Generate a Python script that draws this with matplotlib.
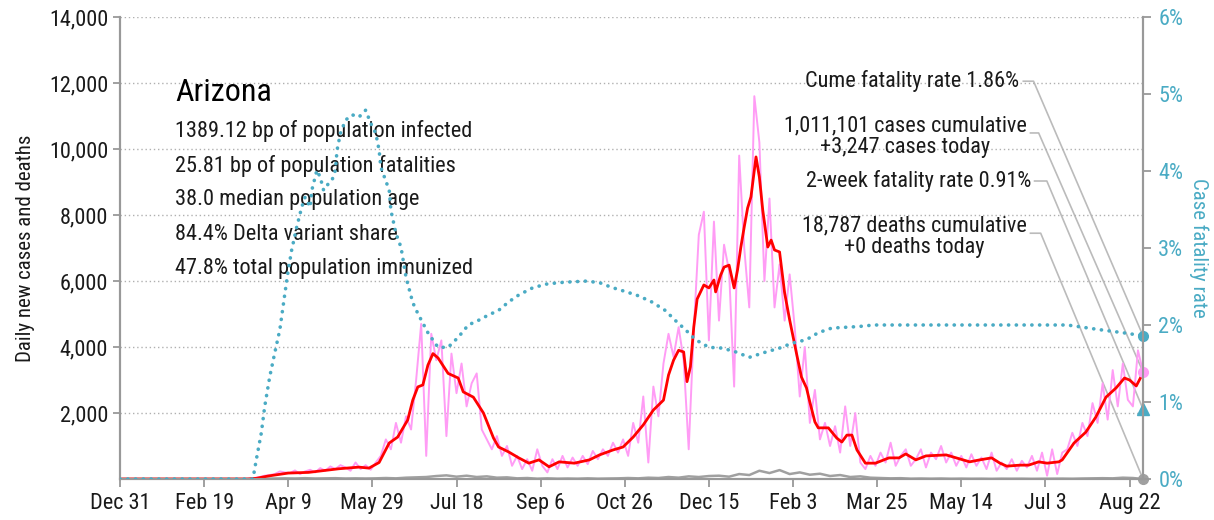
import matplotlib
matplotlib.use("Agg")
import matplotlib.pyplot as plt
import numpy as np

plt.rcParams['font.family'] = ['Roboto Condensed', 'DejaVu Sans']

# x values are days since Dec 31, 2019
tick_labels = ["Dec 31", "Feb 19", "Apr 9", "May 29", "Jul 18", "Sep 6", "Oct 26",
               "Dec 15", "Feb 3", "Mar 25", "May 14", "Jul 3", "Aug 22"]
last_day = 608

# daily new cases, every 3rd day starting day 2
daily_start, daily_step = 2, 3
daily_cases = [0, 0, 0, 0, 0, 0, 0, 0, 0, 0, 0, 0, 0, 0, 0, 0, 0, 0, 0, 0, 0, 0, 0, 0,
               0, 10, 30, 60, 100, 120, 150, 230, 200, 180, 260, 150, 230, 280, 200, 330,
               250, 380, 300, 420, 350, 250, 500, 300, 420, 280, 500, 700, 1200, 900, 1700,
               1100, 1900, 1500, 3000, 4700, 700, 4400, 3600, 4200, 1300, 3800, 2600, 3500,
               2200, 2900, 3200, 1500, 1200, 900, 1300, 700, 1000, 400, 700, 300, 600, 250,
               900, 400, 200, 600, 300, 700, 350, 650, 400, 700, 450, 850, 600, 900, 700,
               1100, 800, 1200, 700, 1700, 1100, 2500, 500, 2800, 1900, 3500, 4400, 3700,
               4600, 3600, 900, 4500, 7400, 8100, 4200, 7800, 4800, 7100, 6300, 2800, 9800,
               7000, 5200, 11600, 10200, 6000, 8500, 5200, 6500, 4800, 6200, 4600, 2500,
               4000, 1700, 2700, 1200, 1700, 1000, 1600, 800, 2200, 1000, 2000, 500, 300,
               700, 400, 800, 500, 1100, 400, 700, 900, 400, 600, 900, 350, 800, 600, 1000,
               500, 800, 400, 700, 350, 750, 400, 650, 300, 800, 250, 500, 300, 600, 250,
               550, 350, 700, 250, 800, 100, 900, 150, 800, 900, 1400, 1000, 1700, 1300,
               2300, 1700, 2900, 1800, 3300, 2200, 3500, 2400, 2200, 3900, 3247]

# 7-day average of cases
avg_days = [0, 76, 81, 88, 100, 112, 130, 142, 148, 154, 160, 165, 171, 174, 177, 180,
            183, 186, 189, 195, 201, 204, 210, 216, 222, 225, 231, 237, 243, 249, 255, 261,
            270, 279, 285, 293, 299, 305, 311, 317, 323, 326, 329, 332, 335, 337, 339, 341,
            343, 347, 350, 353, 354, 357, 359, 362, 365, 367, 369, 371, 373, 375, 378, 380,
            382, 385, 387, 389, 392, 395, 398, 402, 405, 408, 410, 413, 415, 421, 426, 429,
            432, 435, 438, 443, 449, 457, 463, 467, 473, 479, 491, 497, 505, 511, 518, 523,
            527, 535, 540, 546, 551, 558, 560, 567, 574, 580, 586, 592, 597, 600, 604, 608]
avg_cases = [0, 0, 20, 90, 180, 200, 310, 360, 330, 500, 1090, 1270, 1790, 2390, 2790, 2850,
             3450, 3800, 3670, 3200, 3060, 2640, 2480, 2000, 1240, 970, 820, 640, 480, 580,
             370, 520, 480, 580, 730, 880, 970, 1270, 1640, 2090, 2390, 3150, 3600, 3900,
             3850, 2950, 3400, 4600, 5450, 5880, 5790, 6030, 5670, 6180, 6420, 6480, 5790,
             6330, 7030, 7640, 8210, 8550, 9760, 9150, 8150, 7030, 7240, 6940, 6880, 5640,
             4820, 3820, 3090, 2760, 2330, 1730, 1550, 1550, 1240, 1120, 1330, 1330, 880,
             480, 480, 640, 640, 760, 580, 700, 730, 640, 520, 580, 640, 480, 390, 420, 420,
             520, 480, 520, 580, 1090, 1420, 1880, 2480, 2760, 3060, 3000, 2820, 3210]

# daily deaths, every 6th day starting day 2
death_start, death_step = 2, 6
daily_deaths = [0, 0, 0, 0, 0, 0, 0, 0, 0, 0, 0, 0, 0,
                2, 10, 15, 20, 15, 25, 15, 20, 25, 15, 20, 15, 20, 30, 20, 40, 50, 60, 90,
                110, 70, 100, 60, 80, 40, 50, 20, 30, 10, 20, 10, 15, 10, 20, 10, 15, 20, 30,
                20, 40, 30, 60, 40, 80, 60, 90, 100, 70, 150, 120, 250, 180, 270, 150, 200,
                130, 160, 90, 120, 60, 80, 40, 30, 20, 25, 10, 15, 10, 15, 8, 12, 8, 10, 5,
                10, 8, 10, 5, 8, 10, 12, 8, 15, 20, 25, 20, 40, 30, 0]

# case fatality rate (%), right axis
cfr_days = [0, 79, 81, 84, 86, 89, 92, 95, 98, 100, 102, 105, 108, 110, 113, 114, 117, 119,
            121, 124, 126, 128, 129, 131, 134, 138, 142, 146, 149, 152, 154, 155, 160, 161,
            164, 167, 170, 174, 177, 183, 189, 195, 201, 207, 213, 219, 225, 231, 237, 245,
            253, 261, 268, 277, 285, 292, 301, 308, 316, 324, 330, 336, 342, 350, 358, 366,
            374, 384, 392, 399, 408, 415, 423, 439, 448, 563, 582, 596, 608]
cfr_pct = [0, 0, 0.25, 0.6, 0.94, 1.33, 1.64, 1.94, 2.41, 2.71, 2.97, 3.27, 3.53, 3.66,
           3.53, 3.75, 4.01, 3.92, 3.75, 3.84, 3.88, 4.01, 4.27, 4.49, 4.66, 4.73, 4.70,
           4.79, 4.62, 4.49, 4.27, 4.05, 3.75, 3.49, 3.19, 3.01, 2.62, 2.29, 2.15, 1.90,
           1.71, 1.71, 1.84, 2.0, 2.06, 2.13, 2.19, 2.30, 2.39, 2.48, 2.53, 2.55, 2.56,
           2.57, 2.55, 2.49, 2.43, 2.38, 2.30, 2.19, 2.06, 1.94, 1.81, 1.71, 1.70, 1.65,
           1.58, 1.65, 1.70, 1.76, 1.81, 1.90, 1.96, 1.98, 2.0, 2.0, 1.94, 1.90, 1.86]

two_week_cfr = 0.91
cases_today = 3247
deaths_today = 0

title = "Arizona"
stats = ["1389.12 bp of population infected",
         "25.81 bp of population fatalities",
         "38.0 median population age",
         "84.4% Delta variant share",
         "47.8% total population immunized"]
note_cfr = "Cume fatality rate 1.86%"
note_cases = "1,011,101 cases cumulative\n+3,247 cases today"
note_2wk = "2-week fatality rate 0.91%"
note_deaths = "18,787 deaths cumulative\n+0 deaths today"

BLUE = "#4aabc4"
PINK = "#ff9cf5"
GRAY = "#a0a0a0"
AX_GRAY = "#999999"
TXT = "#1a1a1a"

fig = plt.figure(figsize=(12.14, 5.2), dpi=100)
ax = fig.add_axes([120 / 1214, 41 / 520, 1023 / 1214, 462 / 520])
ax2 = ax.twinx()

d_days = daily_start + daily_step * np.arange(len(daily_cases))
dd_days = death_start + death_step * np.arange(len(daily_deaths))

ax.plot(d_days, daily_cases, color=PINK, lw=1.4, zorder=2)
ax.plot(dd_days, daily_deaths, color=GRAY, lw=1.8, zorder=3)
ax.plot(avg_days, avg_cases, color="red", lw=2.0, zorder=4)
ax.plot([last_day], [cases_today], "o", color=PINK, ms=7, zorder=5, clip_on=False)
ax.plot([last_day], [deaths_today], "o", color=GRAY, ms=7, zorder=5, clip_on=False)

ax2.plot(cfr_days, cfr_pct, color=BLUE, lw=2.6, linestyle=(0, (0.05, 2.1)),
         dash_capstyle="round", zorder=3)
ax2.plot([last_day], [cfr_pct[-1]], "o", color=BLUE, ms=7, clip_on=False)
ax2.plot([last_day], [two_week_cfr], "^", color=BLUE, ms=8, clip_on=False)

ax.set_xlim(0, last_day)
ax.set_ylim(0, 14000)
ax2.set_ylim(0, 6)
ax.set_xticks(np.arange(0, 601, 50))
ax.set_xticklabels(tick_labels)
ax.set_yticks(np.arange(2000, 14001, 2000))
ax.set_yticklabels([f"{v:,}" for v in range(2000, 14001, 2000)])
ax2.set_yticks(range(0, 7))
ax2.set_yticklabels([f"{v}%" for v in range(0, 7)])

ax.yaxis.grid(True, linestyle=(0, (1, 2)), color="#b0b0b0", lw=1)
for a in (ax, ax2):
    a.spines["top"].set_visible(False)
    for s in ("left", "right", "bottom"):
        a.spines[s].set_color(AX_GRAY)
        a.spines[s].set_linewidth(1.5)
ax.tick_params(axis="x", colors=AX_GRAY, labelcolor=TXT, labelsize=16, length=6, width=1.3, pad=4)
ax.tick_params(axis="y", colors=AX_GRAY, labelcolor=TXT, labelsize=16, length=5, width=1.3)
ax2.tick_params(axis="y", colors=AX_GRAY, labelcolor=BLUE, labelsize=16, length=6, width=1.3, pad=5)

ax.set_ylabel("Daily new cases and deaths", fontsize=15, color=TXT, labelpad=10)
ax2.set_ylabel("Case fatality rate", fontsize=15, color=BLUE, rotation=270, labelpad=18)

ax.text(0.054, 0.836, title, transform=ax.transAxes, fontsize=23, va="center", ha="left", color="black")
for i, s in enumerate(stats):
    ax.text(0.054, 0.753 - i * 0.0745, s, transform=ax.transAxes, fontsize=16,
            va="center", ha="left", color=TXT)

# annotations with connectors to the end markers
def to_axes(ax_, x, y):
    return ax.transAxes.inverted().transform(ax_.transData.transform((x, y)))

notes = [
    (note_cfr, 0.879, 0.861, 0.883, 0.893, 0.861, ax2, cfr_pct[-1]),
    (note_cases, 0.886, 0.741, 0.890, 0.898, 0.749, ax, cases_today),
    (note_2wk, 0.891, 0.645, 0.894, 0.906, 0.645, ax2, two_week_cfr),
    (note_deaths, 0.886, 0.525, 0.890, 0.900, 0.532, ax, deaths_today),
]
for txt, tx, ty, lx0, lx1, ly, ax_, val in notes:
    ax.text(tx, ty, txt, transform=ax.transAxes, fontsize=16, ha="right", va="center",
            multialignment="center", linespacing=1.05, color=TXT, zorder=6)
    ex, ey = to_axes(ax_, last_day, val)
    ax.plot([lx0, lx1, ex], [ly, ly, ey], transform=ax.transAxes, color="#bbbbbb",
            lw=1.2, clip_on=False, zorder=1)

fig.savefig("out.png", dpi=100)
